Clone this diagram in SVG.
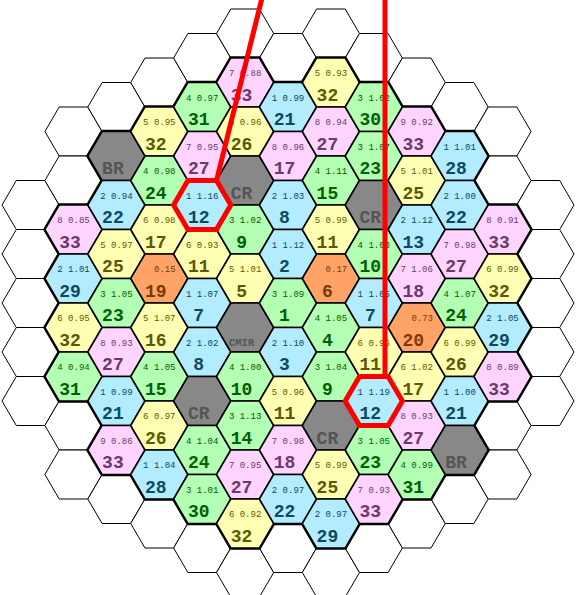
<svg xmlns="http://www.w3.org/2000/svg" xmlns:xlink="http://www.w3.org/1999/xlink" width="578" height="595" viewBox="0 0 578 595">
<style>
.w{fill:#fff;stroke:#000;stroke-width:1}
.ol{fill:#000;stroke:#000;stroke-width:3.4;stroke-linejoin:round}
.hy,.hg,.hb,.hp,.ho,.hk{stroke:#000;stroke-width:1.5;stroke-linejoin:round}
.hy{fill:#ffffb3}.hg{fill:#b3ffb3}.hb{fill:#b3ecff}.hp{fill:#ffd5ff}.ho{fill:#ffa366}.hk{fill:#888}
text{font-family:"Liberation Mono","Courier New",monospace;text-anchor:middle}
.s{font-size:9px}
.n{font-size:18px;font-weight:bold}
.m{font-size:10.5px;font-weight:bold}
.ty text{fill:#5a5a00}.tg text{fill:#006000}.tb text{fill:#0b4a63}.tp text{fill:#6a3a6a}.to text{fill:#7a3a0a}.tk text{fill:#555}
.red{fill:none;stroke:#f00;stroke-width:5;stroke-linejoin:miter}
</style>
<defs>
<polygon id="hx" points="-28.6,0 -14.3,-24.5 14.3,-24.5 28.6,0 14.3,24.5 -14.3,24.5"/>
</defs>
<rect width="578" height="595" fill="#fff"/>
<g id="empty-positions">
<use href="#hx" class="w" x="30.6" y="205"/><use href="#hx" class="w" x="30.6" y="254"/><use href="#hx" class="w" x="30.6" y="303"/><use href="#hx" class="w" x="30.6" y="352"/><use href="#hx" class="w" x="30.6" y="401"/>
<use href="#hx" class="w" x="73.5" y="131.5"/><use href="#hx" class="w" x="73.5" y="180.5"/><use href="#hx" class="w" x="73.5" y="425.5"/><use href="#hx" class="w" x="73.5" y="474.5"/>
<use href="#hx" class="w" x="116.4" y="107"/><use href="#hx" class="w" x="116.4" y="499"/>
<use href="#hx" class="w" x="159.3" y="82.5"/><use href="#hx" class="w" x="159.3" y="523.5"/>
<use href="#hx" class="w" x="202.2" y="58"/><use href="#hx" class="w" x="202.2" y="548"/>
<use href="#hx" class="w" x="245.1" y="33.5"/><use href="#hx" class="w" x="245.1" y="572.5"/>
<use href="#hx" class="w" x="288" y="58"/><use href="#hx" class="w" x="288" y="548"/>
<use href="#hx" class="w" x="330.9" y="33.5"/><use href="#hx" class="w" x="330.9" y="572.5"/>
<use href="#hx" class="w" x="373.8" y="58"/><use href="#hx" class="w" x="373.8" y="548"/>
<use href="#hx" class="w" x="416.7" y="82.5"/><use href="#hx" class="w" x="416.7" y="523.5"/>
<use href="#hx" class="w" x="459.6" y="107"/><use href="#hx" class="w" x="459.6" y="499"/>
<use href="#hx" class="w" x="502.5" y="131.5"/><use href="#hx" class="w" x="502.5" y="180.5"/><use href="#hx" class="w" x="502.5" y="425.5"/><use href="#hx" class="w" x="502.5" y="474.5"/>
<use href="#hx" class="w" x="545.4" y="205"/><use href="#hx" class="w" x="545.4" y="254"/><use href="#hx" class="w" x="545.4" y="303"/><use href="#hx" class="w" x="545.4" y="352"/><use href="#hx" class="w" x="545.4" y="401"/>
</g>
<g id="core-outline">
<use href="#hx" class="ol" x="73.5" y="229.5"/><use href="#hx" class="ol" x="73.5" y="278.5"/><use href="#hx" class="ol" x="73.5" y="327.5"/><use href="#hx" class="ol" x="73.5" y="376.5"/>
<use href="#hx" class="ol" x="116.4" y="156"/><use href="#hx" class="ol" x="116.4" y="205"/><use href="#hx" class="ol" x="116.4" y="254"/><use href="#hx" class="ol" x="116.4" y="303"/><use href="#hx" class="ol" x="116.4" y="352"/><use href="#hx" class="ol" x="116.4" y="401"/><use href="#hx" class="ol" x="116.4" y="450"/>
<use href="#hx" class="ol" x="159.3" y="131.5"/><use href="#hx" class="ol" x="159.3" y="474.5"/>
<use href="#hx" class="ol" x="202.2" y="107"/><use href="#hx" class="ol" x="202.2" y="499"/>
<use href="#hx" class="ol" x="245.1" y="82.5"/><use href="#hx" class="ol" x="245.1" y="523.5"/>
<use href="#hx" class="ol" x="288" y="107"/><use href="#hx" class="ol" x="288" y="499"/>
<use href="#hx" class="ol" x="330.9" y="82.5"/><use href="#hx" class="ol" x="330.9" y="523.5"/>
<use href="#hx" class="ol" x="373.8" y="107"/><use href="#hx" class="ol" x="373.8" y="499"/>
<use href="#hx" class="ol" x="416.7" y="131.5"/><use href="#hx" class="ol" x="416.7" y="474.5"/>
<use href="#hx" class="ol" x="459.6" y="156"/><use href="#hx" class="ol" x="459.6" y="205"/><use href="#hx" class="ol" x="459.6" y="254"/><use href="#hx" class="ol" x="459.6" y="303"/><use href="#hx" class="ol" x="459.6" y="352"/><use href="#hx" class="ol" x="459.6" y="401"/><use href="#hx" class="ol" x="459.6" y="450"/>
<use href="#hx" class="ol" x="502.5" y="229.5"/><use href="#hx" class="ol" x="502.5" y="278.5"/><use href="#hx" class="ol" x="502.5" y="327.5"/><use href="#hx" class="ol" x="502.5" y="376.5"/>
</g>
<g id="core">
<!-- column 1 -->
<g id="h-1-229" class="tp" transform="translate(73.5,229.5)"><use href="#hx" class="hp"/><text class="s" y="-6.5">8 0.85</text><text class="n" x="-3.5" y="18.3">33</text></g>
<g id="h-1-278" class="tb" transform="translate(73.5,278.5)"><use href="#hx" class="hb"/><text class="s" y="-6.5">2 1.01</text><text class="n" x="-3.5" y="18.3">29</text></g>
<g id="h-1-327" class="ty" transform="translate(73.5,327.5)"><use href="#hx" class="hy"/><text class="s" y="-6.5">6 0.95</text><text class="n" x="-3.5" y="18.3">32</text></g>
<g id="h-1-376" class="tg" transform="translate(73.5,376.5)"><use href="#hx" class="hg"/><text class="s" y="-6.5">4 0.94</text><text class="n" x="-3.5" y="18.3">31</text></g>
<!-- column 2 -->
<g id="h-2-156" class="tk" transform="translate(116.4,156)"><use href="#hx" class="hk"/><text class="n" x="-3.5" y="18.3">BR</text></g>
<g id="h-2-205" class="tb" transform="translate(116.4,205)"><use href="#hx" class="hb"/><text class="s" y="-6.5">2 0.94</text><text class="n" x="-3.5" y="18.3">22</text></g>
<g id="h-2-254" class="ty" transform="translate(116.4,254)"><use href="#hx" class="hy"/><text class="s" y="-6.5">5 0.97</text><text class="n" x="-3.5" y="18.3">25</text></g>
<g id="h-2-303" class="tg" transform="translate(116.4,303)"><use href="#hx" class="hg"/><text class="s" y="-6.5">3 1.05</text><text class="n" x="-3.5" y="18.3">23</text></g>
<g id="h-2-352" class="tp" transform="translate(116.4,352)"><use href="#hx" class="hp"/><text class="s" y="-6.5">8 0.93</text><text class="n" x="-3.5" y="18.3">27</text></g>
<g id="h-2-401" class="tb" transform="translate(116.4,401)"><use href="#hx" class="hb"/><text class="s" y="-6.5">1 0.99</text><text class="n" x="-3.5" y="18.3">21</text></g>
<g id="h-2-450" class="tp" transform="translate(116.4,450)"><use href="#hx" class="hp"/><text class="s" y="-6.5">9 0.86</text><text class="n" x="-3.5" y="18.3">33</text></g>
<!-- column 3 -->
<g id="h-3-131" class="ty" transform="translate(159.3,131.5)"><use href="#hx" class="hy"/><text class="s" y="-6.5">5 0.95</text><text class="n" x="-3.5" y="18.3">32</text></g>
<g id="h-3-180" class="tg" transform="translate(159.3,180.5)"><use href="#hx" class="hg"/><text class="s" y="-6.5">4 0.98</text><text class="n" x="-3.5" y="18.3">24</text></g>
<g id="h-3-229" class="ty" transform="translate(159.3,229.5)"><use href="#hx" class="hy"/><text class="s" y="-6.5">6 0.98</text><text class="n" x="-3.5" y="18.3">17</text></g>
<g id="h-3-278" class="to" transform="translate(159.3,278.5)"><use href="#hx" class="ho"/><text class="s" x="5.5" y="-6.5">0.15</text><text class="n" x="-3.5" y="18.3">19</text></g>
<g id="h-3-327" class="ty" transform="translate(159.3,327.5)"><use href="#hx" class="hy"/><text class="s" y="-6.5">5 1.07</text><text class="n" x="-3.5" y="18.3">16</text></g>
<g id="h-3-376" class="tg" transform="translate(159.3,376.5)"><use href="#hx" class="hg"/><text class="s" y="-6.5">4 1.05</text><text class="n" x="-3.5" y="18.3">15</text></g>
<g id="h-3-425" class="ty" transform="translate(159.3,425.5)"><use href="#hx" class="hy"/><text class="s" y="-6.5">6 0.97</text><text class="n" x="-3.5" y="18.3">26</text></g>
<g id="h-3-474" class="tb" transform="translate(159.3,474.5)"><use href="#hx" class="hb"/><text class="s" y="-6.5">1 1.04</text><text class="n" x="-3.5" y="18.3">28</text></g>
<!-- column 4 -->
<g id="h-4-107" class="tg" transform="translate(202.2,107)"><use href="#hx" class="hg"/><text class="s" y="-6.5">4 0.97</text><text class="n" x="-3.5" y="18.3">31</text></g>
<g id="h-4-156" class="tp" transform="translate(202.2,156)"><use href="#hx" class="hp"/><text class="s" y="-6.5">7 0.95</text><text class="n" x="-3.5" y="18.3">27</text></g>
<g id="h-4-205" class="tb" transform="translate(202.2,205)"><use href="#hx" class="hb"/><text class="s" y="-6.5">1 1.16</text><text class="n" x="-3.5" y="18.3">12</text></g>
<g id="h-4-254" class="ty" transform="translate(202.2,254)"><use href="#hx" class="hy"/><text class="s" y="-6.5">6 0.93</text><text class="n" x="-3.5" y="18.3">11</text></g>
<g id="h-4-303" class="tb" transform="translate(202.2,303)"><use href="#hx" class="hb"/><text class="s" y="-6.5">1 1.07</text><text class="n" x="-3.5" y="18.3">7</text></g>
<g id="h-4-352" class="tb" transform="translate(202.2,352)"><use href="#hx" class="hb"/><text class="s" y="-6.5">2 1.02</text><text class="n" x="-3.5" y="18.3">8</text></g>
<g id="h-4-401" class="tk" transform="translate(202.2,401)"><use href="#hx" class="hk"/><text class="n" x="-3.5" y="18.3">CR</text></g>
<g id="h-4-450" class="tg" transform="translate(202.2,450)"><use href="#hx" class="hg"/><text class="s" y="-6.5">4 1.04</text><text class="n" x="-3.5" y="18.3">24</text></g>
<g id="h-4-499" class="tg" transform="translate(202.2,499)"><use href="#hx" class="hg"/><text class="s" y="-6.5">3 1.01</text><text class="n" x="-3.5" y="18.3">30</text></g>
<!-- column 5 -->
<g id="h-5-82" class="tp" transform="translate(245.1,82.5)"><use href="#hx" class="hp"/><text class="s" y="-6.5">7 0.88</text><text class="n" x="-3.5" y="18.3">33</text></g>
<g id="h-5-131" class="ty" transform="translate(245.1,131.5)"><use href="#hx" class="hy"/><text class="s" y="-6.5">6 0.96</text><text class="n" x="-3.5" y="18.3">26</text></g>
<g id="h-5-180" class="tk" transform="translate(245.1,180.5)"><use href="#hx" class="hk"/><text class="n" x="-3.5" y="18.3">CR</text></g>
<g id="h-5-229" class="tg" transform="translate(245.1,229.5)"><use href="#hx" class="hg"/><text class="s" y="-6.5">3 1.02</text><text class="n" x="-3.5" y="18.3">9</text></g>
<g id="h-5-278" class="ty" transform="translate(245.1,278.5)"><use href="#hx" class="hy"/><text class="s" y="-6.5">5 1.01</text><text class="n" x="-3.5" y="18.3">5</text></g>
<g id="h-5-327" class="tk" transform="translate(245.1,327.5)"><use href="#hx" class="hk"/><text class="m" x="-3.5" y="18.3">CMIR</text></g>
<g id="h-5-376" class="tg" transform="translate(245.1,376.5)"><use href="#hx" class="hg"/><text class="s" y="-6.5">4 1.00</text><text class="n" x="-3.5" y="18.3">10</text></g>
<g id="h-5-425" class="tg" transform="translate(245.1,425.5)"><use href="#hx" class="hg"/><text class="s" y="-6.5">3 1.13</text><text class="n" x="-3.5" y="18.3">14</text></g>
<g id="h-5-474" class="tp" transform="translate(245.1,474.5)"><use href="#hx" class="hp"/><text class="s" y="-6.5">7 0.95</text><text class="n" x="-3.5" y="18.3">27</text></g>
<g id="h-5-523" class="ty" transform="translate(245.1,523.5)"><use href="#hx" class="hy"/><text class="s" y="-6.5">6 0.92</text><text class="n" x="-3.5" y="18.3">32</text></g>
<!-- column 6 -->
<g id="h-6-107" class="tb" transform="translate(288,107)"><use href="#hx" class="hb"/><text class="s" y="-6.5">1 0.99</text><text class="n" x="-3.5" y="18.3">21</text></g>
<g id="h-6-156" class="tp" transform="translate(288,156)"><use href="#hx" class="hp"/><text class="s" y="-6.5">8 0.96</text><text class="n" x="-3.5" y="18.3">17</text></g>
<g id="h-6-205" class="tb" transform="translate(288,205)"><use href="#hx" class="hb"/><text class="s" y="-6.5">2 1.03</text><text class="n" x="-3.5" y="18.3">8</text></g>
<g id="h-6-254" class="tb" transform="translate(288,254)"><use href="#hx" class="hb"/><text class="s" y="-6.5">1 1.12</text><text class="n" x="-3.5" y="18.3">2</text></g>
<g id="h-6-303" class="tg" transform="translate(288,303)"><use href="#hx" class="hg"/><text class="s" y="-6.5">3 1.09</text><text class="n" x="-3.5" y="18.3">1</text></g>
<g id="h-6-352" class="tb" transform="translate(288,352)"><use href="#hx" class="hb"/><text class="s" y="-6.5">2 1.10</text><text class="n" x="-3.5" y="18.3">3</text></g>
<g id="h-6-401" class="ty" transform="translate(288,401)"><use href="#hx" class="hy"/><text class="s" y="-6.5">5 0.96</text><text class="n" x="-3.5" y="18.3">11</text></g>
<g id="h-6-450" class="tp" transform="translate(288,450)"><use href="#hx" class="hp"/><text class="s" y="-6.5">7 0.98</text><text class="n" x="-3.5" y="18.3">18</text></g>
<g id="h-6-499" class="tb" transform="translate(288,499)"><use href="#hx" class="hb"/><text class="s" y="-6.5">2 0.97</text><text class="n" x="-3.5" y="18.3">22</text></g>
<!-- column 7 -->
<g id="h-7-82" class="ty" transform="translate(330.9,82.5)"><use href="#hx" class="hy"/><text class="s" y="-6.5">5 0.93</text><text class="n" x="-3.5" y="18.3">32</text></g>
<g id="h-7-131" class="tp" transform="translate(330.9,131.5)"><use href="#hx" class="hp"/><text class="s" y="-6.5">8 0.94</text><text class="n" x="-3.5" y="18.3">27</text></g>
<g id="h-7-180" class="tg" transform="translate(330.9,180.5)"><use href="#hx" class="hg"/><text class="s" y="-6.5">4 1.11</text><text class="n" x="-3.5" y="18.3">15</text></g>
<g id="h-7-229" class="ty" transform="translate(330.9,229.5)"><use href="#hx" class="hy"/><text class="s" y="-6.5">5 0.99</text><text class="n" x="-3.5" y="18.3">11</text></g>
<g id="h-7-278" class="to" transform="translate(330.9,278.5)"><use href="#hx" class="ho"/><text class="s" x="5.5" y="-6.5">0.17</text><text class="n" x="-3.5" y="18.3">6</text></g>
<g id="h-7-327" class="tg" transform="translate(330.9,327.5)"><use href="#hx" class="hg"/><text class="s" y="-6.5">4 1.05</text><text class="n" x="-3.5" y="18.3">4</text></g>
<g id="h-7-376" class="tg" transform="translate(330.9,376.5)"><use href="#hx" class="hg"/><text class="s" y="-6.5">3 1.04</text><text class="n" x="-3.5" y="18.3">9</text></g>
<g id="h-7-425" class="tk" transform="translate(330.9,425.5)"><use href="#hx" class="hk"/><text class="n" x="-3.5" y="18.3">CR</text></g>
<g id="h-7-474" class="ty" transform="translate(330.9,474.5)"><use href="#hx" class="hy"/><text class="s" y="-6.5">5 0.99</text><text class="n" x="-3.5" y="18.3">25</text></g>
<g id="h-7-523" class="tb" transform="translate(330.9,523.5)"><use href="#hx" class="hb"/><text class="s" y="-6.5">2 0.97</text><text class="n" x="-3.5" y="18.3">29</text></g>
<!-- column 8 -->
<g id="h-8-107" class="tg" transform="translate(373.8,107)"><use href="#hx" class="hg"/><text class="s" y="-6.5">3 1.02</text><text class="n" x="-3.5" y="18.3">30</text></g>
<g id="h-8-156" class="tg" transform="translate(373.8,156)"><use href="#hx" class="hg"/><text class="s" y="-6.5">3 1.07</text><text class="n" x="-3.5" y="18.3">23</text></g>
<g id="h-8-205" class="tk" transform="translate(373.8,205)"><use href="#hx" class="hk"/><text class="n" x="-3.5" y="18.3">CR</text></g>
<g id="h-8-254" class="tg" transform="translate(373.8,254)"><use href="#hx" class="hg"/><text class="s" y="-6.5">4 1.03</text><text class="n" x="-3.5" y="18.3">10</text></g>
<g id="h-8-303" class="tb" transform="translate(373.8,303)"><use href="#hx" class="hb"/><text class="s" y="-6.5">1 1.05</text><text class="n" x="-3.5" y="18.3">7</text></g>
<g id="h-8-352" class="ty" transform="translate(373.8,352)"><use href="#hx" class="hy"/><text class="s" y="-6.5">6 0.96</text><text class="n" x="-3.5" y="18.3">11</text></g>
<g id="h-8-401" class="tb" transform="translate(373.8,401)"><use href="#hx" class="hb"/><text class="s" y="-6.5">1 1.19</text><text class="n" x="-3.5" y="18.3">12</text></g>
<g id="h-8-450" class="tg" transform="translate(373.8,450)"><use href="#hx" class="hg"/><text class="s" y="-6.5">3 1.05</text><text class="n" x="-3.5" y="18.3">23</text></g>
<g id="h-8-499" class="tp" transform="translate(373.8,499)"><use href="#hx" class="hp"/><text class="s" y="-6.5">7 0.93</text><text class="n" x="-3.5" y="18.3">33</text></g>
<!-- column 9 -->
<g id="h-9-131" class="tp" transform="translate(416.7,131.5)"><use href="#hx" class="hp"/><text class="s" y="-6.5">9 0.92</text><text class="n" x="-3.5" y="18.3">33</text></g>
<g id="h-9-180" class="ty" transform="translate(416.7,180.5)"><use href="#hx" class="hy"/><text class="s" y="-6.5">5 1.01</text><text class="n" x="-3.5" y="18.3">25</text></g>
<g id="h-9-229" class="tb" transform="translate(416.7,229.5)"><use href="#hx" class="hb"/><text class="s" y="-6.5">2 1.12</text><text class="n" x="-3.5" y="18.3">13</text></g>
<g id="h-9-278" class="tp" transform="translate(416.7,278.5)"><use href="#hx" class="hp"/><text class="s" y="-6.5">7 1.06</text><text class="n" x="-3.5" y="18.3">18</text></g>
<g id="h-9-327" class="to" transform="translate(416.7,327.5)"><use href="#hx" class="ho"/><text class="s" x="5.5" y="-6.5">0.73</text><text class="n" x="-3.5" y="18.3">20</text></g>
<g id="h-9-376" class="ty" transform="translate(416.7,376.5)"><use href="#hx" class="hy"/><text class="s" y="-6.5">6 1.02</text><text class="n" x="-3.5" y="18.3">17</text></g>
<g id="h-9-425" class="tp" transform="translate(416.7,425.5)"><use href="#hx" class="hp"/><text class="s" y="-6.5">8 0.93</text><text class="n" x="-3.5" y="18.3">27</text></g>
<g id="h-9-474" class="tg" transform="translate(416.7,474.5)"><use href="#hx" class="hg"/><text class="s" y="-6.5">4 0.99</text><text class="n" x="-3.5" y="18.3">31</text></g>
<!-- column 10 -->
<g id="h-10-156" class="tb" transform="translate(459.6,156)"><use href="#hx" class="hb"/><text class="s" y="-6.5">1 1.01</text><text class="n" x="-3.5" y="18.3">28</text></g>
<g id="h-10-205" class="tb" transform="translate(459.6,205)"><use href="#hx" class="hb"/><text class="s" y="-6.5">2 1.00</text><text class="n" x="-3.5" y="18.3">22</text></g>
<g id="h-10-254" class="tp" transform="translate(459.6,254)"><use href="#hx" class="hp"/><text class="s" y="-6.5">7 0.98</text><text class="n" x="-3.5" y="18.3">27</text></g>
<g id="h-10-303" class="tg" transform="translate(459.6,303)"><use href="#hx" class="hg"/><text class="s" y="-6.5">4 1.07</text><text class="n" x="-3.5" y="18.3">24</text></g>
<g id="h-10-352" class="ty" transform="translate(459.6,352)"><use href="#hx" class="hy"/><text class="s" y="-6.5">6 0.99</text><text class="n" x="-3.5" y="18.3">26</text></g>
<g id="h-10-401" class="tb" transform="translate(459.6,401)"><use href="#hx" class="hb"/><text class="s" y="-6.5">1 1.00</text><text class="n" x="-3.5" y="18.3">21</text></g>
<g id="h-10-450" class="tk" transform="translate(459.6,450)"><use href="#hx" class="hk"/><text class="n" x="-3.5" y="18.3">BR</text></g>
<!-- column 11 -->
<g id="h-11-229" class="tp" transform="translate(502.5,229.5)"><use href="#hx" class="hp"/><text class="s" y="-6.5">8 0.91</text><text class="n" x="-3.5" y="18.3">33</text></g>
<g id="h-11-278" class="ty" transform="translate(502.5,278.5)"><use href="#hx" class="hy"/><text class="s" y="-6.5">6 0.99</text><text class="n" x="-3.5" y="18.3">32</text></g>
<g id="h-11-327" class="tb" transform="translate(502.5,327.5)"><use href="#hx" class="hb"/><text class="s" y="-6.5">2 1.05</text><text class="n" x="-3.5" y="18.3">29</text></g>
<g id="h-11-376" class="tp" transform="translate(502.5,376.5)"><use href="#hx" class="hp"/><text class="s" y="-6.5">8 0.89</text><text class="n" x="-3.5" y="18.3">33</text></g>
</g>
<g id="connectors">
<path class="red" d="M173.6,205 L187.9,180.5 L216.5,180.5 L230.8,205 L216.5,229.5 L187.9,229.5 Z"/>
<line class="red" x1="216.5" y1="180.5" x2="264" y2="-10"/>
<path class="red" d="M345.2,401 L359.5,376.5 L388.1,376.5 L402.4,401 L388.1,425.5 L359.5,425.5 Z"/>
<line class="red" x1="385" y1="376.5" x2="385" y2="-10"/>
</g>
</svg>
